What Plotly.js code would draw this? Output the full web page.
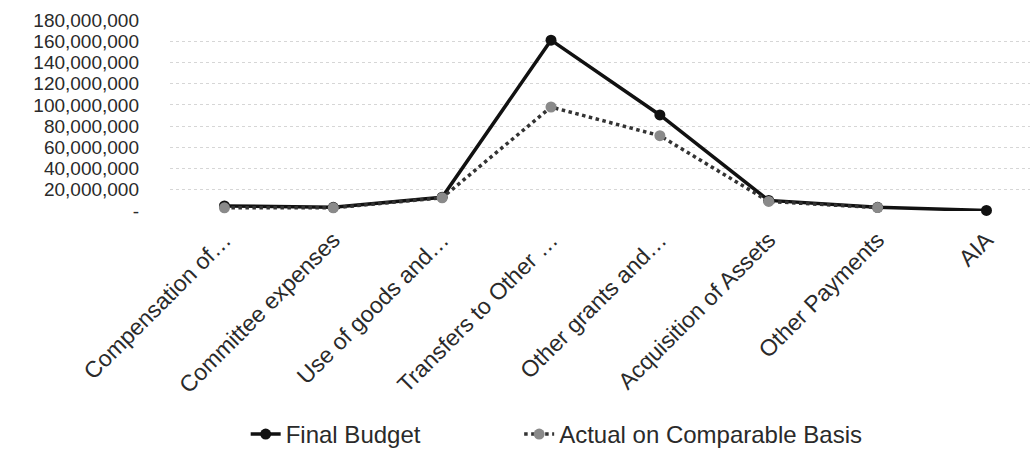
<!DOCTYPE html>
<html>
<head>
<meta charset="utf-8">
<script src="https://cdn.plot.ly/plotly-3.0.1.min.js"></script>
<style>html,body{margin:0;padding:0;background:#fff;}#chart{width:1033px;height:459px;}</style>
</head>
<body>
<div id="chart"></div>
<script>
const categories = ["Compensation of…","Committee expenses","Use of goods and…","Transfers to Other …","Other grants and…","Acquisition of Assets","Other Payments","AIA"];
const finalBudget = [4800000, 3500000, 13000000, 161000000, 90500000, 10000000, 3500000, 500000];
const actualComparable = [3000000, 3000000, 12500000, 98000000, 71000000, 9000000, 3200000, null];
const yTickVals = [0,20000000,40000000,60000000,80000000,100000000,120000000,140000000,160000000,180000000];
const yTickText = ["-","20,000,000","40,000,000","60,000,000","80,000,000","100,000,000","120,000,000","140,000,000","160,000,000","180,000,000"];

const xIdx = categories.map((c,i)=>i);
const traces = [
  {x: xIdx, y: finalBudget, name: "Final Budget", type: "scatter", mode: "lines+markers",
   line: {color: "#111", width: 3.5}, marker: {color: "#111", size: 11}, cliponaxis: false, legend: "legend"},
  {x: xIdx, y: actualComparable, name: "Actual on Comparable Basis", type: "scatter", mode: "lines+markers",
   line: {color: "#333", width: 3.5, dash: "dot"}, marker: {color: "#8a8a8a", size: 11}, cliponaxis: false, connectgaps: false, legend: "legend2"}
];
const legendFont = {size: 24, color: "#2a2a2a"};
const layout = {
  width: 1033, height: 459,
  margin: {l: 170, r: 3, t: 20, b: 244},
  paper_bgcolor: "#fff", plot_bgcolor: "#fff",
  font: {family: "Liberation Sans, Arial, sans-serif", color: "#2a2a2a", size: 23},
  showlegend: true,
  legend: {orientation: "h", x: 0.088, xanchor: "left", y: -1.17, yanchor: "middle", font: legendFont, bgcolor: "rgba(0,0,0,0)"},
  legend2: {orientation: "h", x: 0.406, xanchor: "left", y: -1.17, yanchor: "middle", font: legendFont, bgcolor: "rgba(0,0,0,0)"},
  xaxis: {range: [-0.5, 7.4], tickvals: xIdx, ticktext: categories, tickangle: -45,
          showgrid: false, zeroline: false, showline: false, ticks: "", tickfont: {size: 23}, ticklabelstandoff: 10},
  yaxis: {range: [0, 180000000], tickvals: yTickVals, ticktext: yTickText,
          showgrid: true, gridcolor: "#d6d6d6", gridwidth: 1, griddash: "dot", zeroline: false, showline: false,
          ticks: "", tickfont: {size: 19}, ticklabelstandoff: 30}
};
Plotly.newPlot("chart", traces, layout, {displayModeBar: false, staticPlot: true});
</script>
</body>
</html>
